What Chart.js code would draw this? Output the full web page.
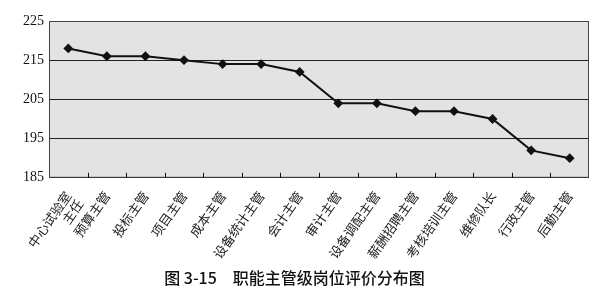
<!DOCTYPE html>
<html lang="zh">
<head>
  <meta charset="UTF-8" />
  <title>职能主管级岗位评价分布图</title>
  <script src="https://cdn.jsdelivr.net/npm/chart.js"></script>
  <style>
    body { margin: 0; background: #fff; }
    .wrap { width: 605px; height: 304px; }
  </style>
</head>
<body>
  <div class="wrap"><canvas id="chart"></canvas></div>

  <script>
    // categories (first label wraps on two lines, like the original)
    const positions = [
      ['中心试验室', '主任'], '预算主管', '投标主管', '项目主管', '成本主管',
      '设备统计主管', '会计主管', '审计主管', '设备调配主管', '薪酬招聘主管',
      '考核培训主管', '维修队长', '行政主管', '后勤主管'
    ];
    const scores = [218, 216, 216, 215, 214, 214, 212, 204, 204, 202, 202, 200, 192, 190];
    const yMin = 185, yMax = 225, yStep = 10;

    // grey plot background + frame + short inner ticks on the category axis
    const plotFrame = {
      id: 'plotFrame',
      beforeDraw(chart) {
        const { ctx, chartArea: a } = chart;
        ctx.save();
        ctx.fillStyle = '#e3e3e3';
        ctx.fillRect(a.left, a.top, a.right - a.left, a.bottom - a.top);
        ctx.restore();
      },
      afterDatasetsDraw(chart) {
        const { ctx, chartArea: a, scales } = chart;
        const x = scales.x;
        ctx.save();
        ctx.strokeStyle = '#444';
        ctx.lineWidth = 1;
        ctx.strokeRect(a.left + 0.5, a.top + 0.5, a.right - a.left - 1, a.bottom - a.top - 1);
        ctx.strokeStyle = '#111';
        ctx.beginPath();
        for (let i = 1; i < positions.length; i++) {
          const px = Math.round((x.getPixelForValue(i - 1) + x.getPixelForValue(i)) / 2) + 0.5;
          ctx.moveTo(px, a.bottom);
          ctx.lineTo(px, a.bottom - 5);
        }
        ctx.stroke();
        ctx.restore();
      }
    };

    new Chart(document.getElementById('chart'), {
      type: 'line',
      data: {
        labels: positions,
        datasets: [{
          data: scores,
          borderColor: '#111',
          backgroundColor: '#111',
          borderWidth: 2,
          pointStyle: 'rectRot',
          pointRadius: 3.5,
          tension: 0,
          fill: false
        }]
      },
      options: {
        responsive: true,
        maintainAspectRatio: false,
        animation: false,
        layout: { padding: { left: 0, right: 16, top: 21, bottom: 10 } },
        plugins: {
          legend: { display: false },
          tooltip: { enabled: false },
          title: {
            display: true,
            position: 'bottom',
            text: '图 3-15　职能主管级岗位评价分布图',
            color: '#111',
            font: { family: 'Noto Sans CJK SC', size: 16, weight: '500' },
            padding: { top: 6, bottom: 6 }
          }
        },
        scales: {
          x: {
            offset: true,
            grid: { display: false },
            border: { display: false },
            ticks: {
              color: '#222',
              font: { family: 'Noto Sans CJK SC', size: 13, lineHeight: 1.1 },
              maxRotation: 55,
              minRotation: 55,
              padding: 3,
              autoSkip: false
            },
            afterFit(scale) { scale.height = 85; }
          },
          y: {
            min: yMin,
            max: yMax,
            grid: { color: '#222', lineWidth: 1, drawTicks: false },
            border: { display: false },
            ticks: {
              stepSize: yStep,
              color: '#111',
              padding: 5,
              font: { family: 'Liberation Serif', size: 14 }
            },
            afterFit(scale) { scale.width = 49; }
          }
        }
      },
      plugins: [plotFrame]
    });
  </script>
</body>
</html>
